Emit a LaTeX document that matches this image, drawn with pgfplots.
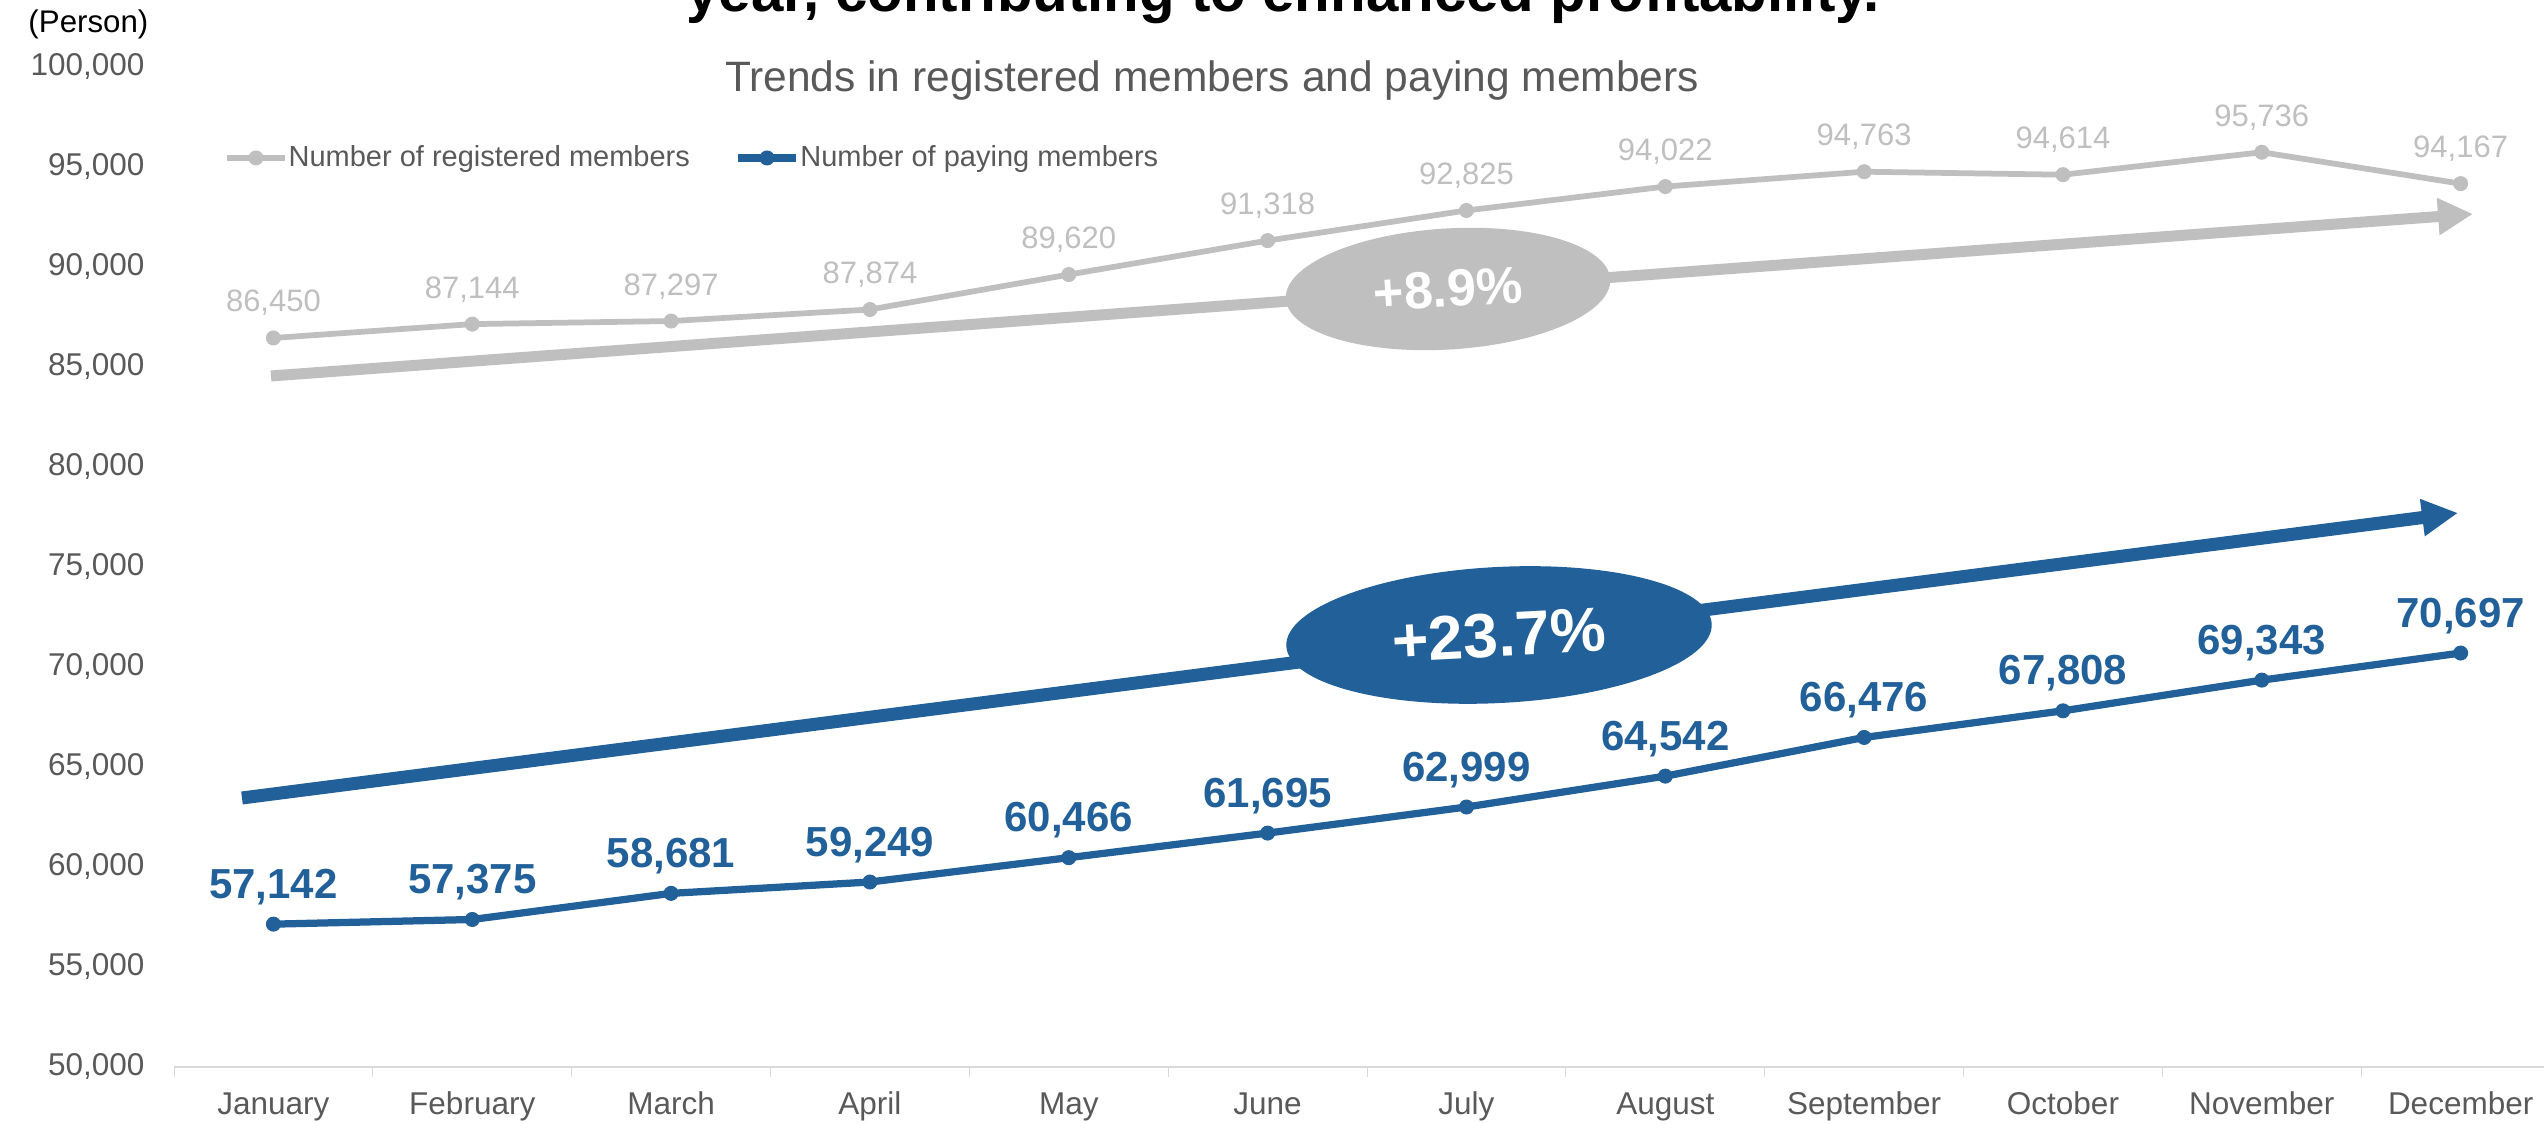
\documentclass[border=0pt]{standalone}
\usepackage{fontspec}
\setmainfont{Liberation Sans}
\usepackage{pgfplots}
\usepackage{pgfplotstable}
\pgfplotsset{compat=1.18}
\usetikzlibrary{arrows.meta}

\definecolor{regGray}{RGB}{191,191,191}
\definecolor{payBlue}{RGB}{34,96,154}
\definecolor{txtGray}{RGB}{89,89,89}
\definecolor{axGray}{RGB}{217,217,217}

% monthly member counts
\pgfplotstableread{
m reg pay
0 86450 57142
1 87144 57375
2 87297 58681
3 87874 59249
4 89620 60466
5 91318 61695
6 92825 62999
7 94022 64542
8 94763 66476
9 94614 67808
10 95736 69343
11 94167 70697
}\members

\begin{document}
\begin{tikzpicture}[x=0.4pt,y=0.4pt]
\useasboundingbox (0,0) rectangle (2544,1124);
\clip (0,0) rectangle (2544,1124);

\begin{axis}[
  at={(69.6pt,22.8pt)}, anchor=south west,
  width=954.4pt, height=400pt, scale only axis,
  xmin=-0.5, xmax=11.5, ymin=50000, ymax=100000,
  clip=false,
  scaled y ticks=false,
  axis line style={draw=none},
  tick pos=left, tick align=outside,
  major tick length=0pt, minor tick length=4pt,
  minor tick style={draw=axGray, line width=0.4pt},
  xtick={0,...,11},
  xticklabels={January,February,March,April,May,June,July,August,September,October,November,December},
  minor xtick={-0.5,0.5,...,11.5},
  ytick={50000,55000,...,100000},
  yticklabels={{50,000},{55,000},{60,000},{65,000},{70,000},{75,000},{80,000},{85,000},{90,000},{95,000},{100,000}},
  tick label style={font=\fontsize{12.6}{14}\selectfont, text=txtGray},
  xticklabel style={anchor=base, inner sep=0pt, yshift=-19.2pt},
  yticklabel style={anchor=east, inner sep=0pt, xshift=-11.6pt},
  /pgf/number format/fixed,
  /pgf/number format/precision=0,
  /pgf/number format/1000 sep={,},
  /pgf/number format/assume math mode=true,
  legend columns=2,
  legend image code/.code={\draw[#1, mark repeat=2, mark phase=2] plot coordinates {(0pt,0pt) (11.6pt,0pt) (23.2pt,0pt)};},
  legend style={at={(0.021,0.909)}, anchor=west, draw=none, fill=none,
    inner sep=0pt, outer sep=0pt, nodes={inner sep=0.3pt},
    font=\fontsize{11.6}{13}\selectfont, text=txtGray,
    /tikz/every even column/.append style={column sep=17.5pt}},
]
\draw[axGray, line width=0.9pt] (rel axis cs:0,0) -- (rel axis cs:1,0);

\addplot[regGray, line width=2.3pt, mark=*, mark size=2.8pt,
  mark options={line width=0.4pt},
  nodes near coords,
  every node near coord/.append style={anchor=base, inner sep=0pt, yshift=10.4pt,
    text=regGray, font=\fontsize{12.4}{14}\selectfont}]
  table[x=m, y=reg] {\members};
\addlegendentry{Number of registered members}

\addplot[payBlue, line width=2.9pt, mark=*, mark size=2.8pt,
  mark options={line width=0.4pt},
  nodes near coords,
  every node near coord/.append style={anchor=base, inner sep=0pt, yshift=10.4pt,
    text=payBlue, font=\bfseries\fontsize{16.8}{18}\selectfont}]
  table[x=m, y=pay] {\members};
\addlegendentry{Number of paying members}
\end{axis}

% growth arrows and badges
\draw[regGray, line width=4.4pt, -{Triangle[length=14pt,width=14pt]}] (271,748) -- (2473,910);
\fill[regGray, rotate around={3.5:(1448,835)}] (1448,835) ellipse [x radius=65pt, y radius=24.2pt];
\node[text=white, font=\bfseries\fontsize{20.8}{22}\selectfont, rotate=3.5] at (1448,835) {+8.9\%};

\draw[payBlue, line width=5.2pt, -{Triangle[length=14.4pt,width=14pt]}] (242,326) -- (2458,611);
\fill[payBlue, rotate around={3:(1499,489)}] (1499,489) ellipse [x radius=85.2pt, y radius=27.2pt];
\node[text=white, font=\bfseries\fontsize{25}{27}\selectfont, rotate=3] at (1499,489) {+23.7\%};

% titles
\node[anchor=base, inner sep=0pt, font=\bfseries\fontsize{23.3}{26}\selectfont] at (1283,1112) {year, contributing to enhanced profitability.};
\node[anchor=base, inner sep=0pt, text=txtGray, font=\fontsize{17}{19}\selectfont] at (1212,1032) {Trends in registered members and paying members};
\node[anchor=base west, inner sep=0pt, font=\fontsize{12.5}{14}\selectfont] at (28,1091) {(Person)};
\end{tikzpicture}
\end{document}
